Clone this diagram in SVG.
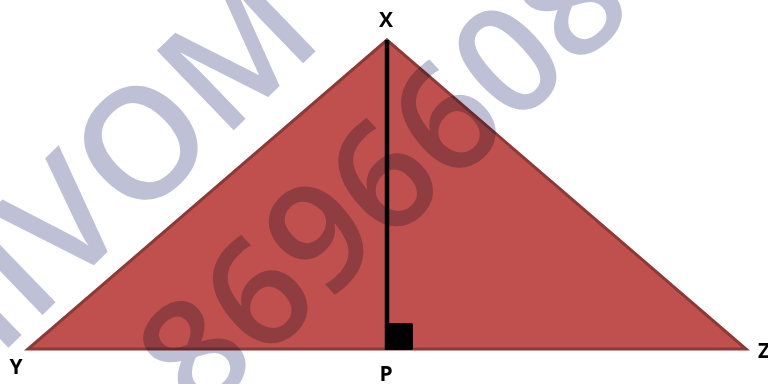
<svg xmlns="http://www.w3.org/2000/svg" width="768" height="384" viewBox="0 0 768 384">
  <style>
    .lbl { font-family: "Open Sans", "Liberation Sans", sans-serif; font-weight: 700; font-size: 21px; fill: #000; text-anchor: middle; }
    .wm { font-family: "Open Sans", "Liberation Sans", sans-serif; font-weight: 600; fill: #BEC1D6; mix-blend-mode: multiply; }
  </style>
  <rect x="0" y="0" width="768" height="384" fill="#FFFFFF"/>
  <g id="triangle">
    <polygon points="387,40 28,349 746,349" fill="#C0504D" stroke="#8C3A38" stroke-width="3" stroke-linejoin="miter"/>
  </g>
  <g id="connectors">
    <line id="altitude" x1="387" y1="40" x2="387" y2="350" stroke="#000" stroke-width="4.5"/>
    <rect id="right-angle" x="387" y="323" width="26" height="27" rx="2" fill="#000"/>
  </g>
  <g id="watermark">
    <text class="wm" font-size="155" x="326" y="41" text-anchor="end" transform="rotate(-44 326 41)">SHIVOM</text>
    <text class="wm" font-size="150" x="199" y="421" transform="rotate(-43 199 421)">86966080</text>
  </g>
  <g id="labels">
    <text id="label-X" class="lbl" x="386" y="27">X</text>
    <text id="label-Y" class="lbl" x="16" y="374">Y</text>
    <text id="label-P" class="lbl" x="386" y="381">P</text>
    <text id="label-Z" class="lbl" x="764" y="358">Z</text>
  </g>
</svg>
